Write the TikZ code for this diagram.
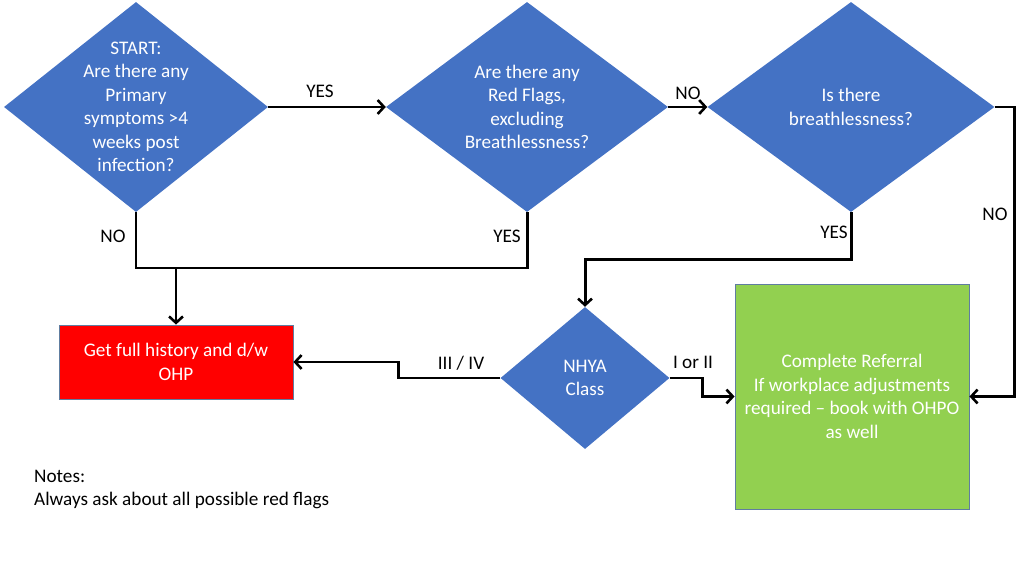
\documentclass[tikz,border=0pt]{standalone}
\usepackage{fontspec}
\setmainfont{Carlito}
\usepackage{tikz}
\usetikzlibrary{arrows.meta,positioning,shapes.geometric,calc}
\definecolor{dblue}{RGB}{68,114,196}
\definecolor{flagred}{RGB}{255,0,0}
\definecolor{okgreen}{RGB}{146,208,80}
\definecolor{edge}{RGB}{96,125,160}
\newcommand\pxu{*0.9375pt}
\tikzset{
  dia/.style={diamond,fill=dblue,draw=none,inner sep=0pt},
  dtxt/.style={text=white,align=center,font=\fontsize{18}{22}\selectfont,inner sep=0pt},
  endbox/.style={rectangle,draw=edge,line width=0.8pt,text=white,align=center,
    font=\fontsize{18}{22}\selectfont,inner sep=0pt},
  arr/.style={-{Straight Barb[length=6pt,width=13pt,line width=2.4pt]},line width=2.8pt},
  wire/.style={line width=2.8pt},
  lbl/.style={font=\fontsize{18}{22}\selectfont,inner sep=0pt},
}
\begin{document}
\begin{tikzpicture}[x=0.9375pt,y=-0.9375pt]
  \useasboundingbox (0,0) rectangle (1024,576);

  \node[dia,minimum width=264\pxu,minimum height=210\pxu] (start) at (136,107) {};
  \node[dtxt] (tstart) at (start) {START:\\Are there any\\Primary\\symptoms >4\\weeks post\\infection?};
  \node[dia,minimum width=282\pxu,minimum height=210\pxu] (flags) at (527,107) {};
  \node[dtxt] (tflags) at (flags) {Are there any\\Red Flags,\\excluding\\Breathlessness?};
  \node[dia,minimum width=287\pxu,minimum height=210\pxu] (breath) at (851,107) {};
  \node[dtxt] (tbreath) at (breath) {Is there\\breathlessness?};
  \node[dia,minimum width=169\pxu,minimum height=142\pxu] (nyha) at (585,378) {};
  \node[dtxt] (tnyha) at (nyha) {NHYA\\Class};

  \node[endbox,fill=flagred,minimum width=234\pxu,minimum height=74\pxu] (history) at (176,362)
    {Get full history and d/w\\OHP};
  \node[endbox,fill=okgreen,minimum width=234\pxu,minimum height=225\pxu] (referral) at (852,396.5)
    {Complete Referral\\If workplace adjustments\\required -- book with OHPO\\as well};

  \coordinate (join) at (176,268);

  % top row
  \draw[arr] (start.east) -- (flags.west);
  \node[lbl] (lyes1) at (320,91) {YES};
  \draw[arr] (flags.east) -- (breath.west);
  \node[lbl] (lno1) at (688,93) {NO};
  \draw[arr] (breath.east) -- ++(20,0) |- (referral.east);
  \node[lbl] (lno2) at (995,214) {NO};

  % down to history
  \draw[wire] (start.south) |- (join) -| (flags.south);
  \draw[arr] (join) -- (history.north);
  \node[lbl] (lno3) at (113,236) {NO};
  \node[lbl] (lyes2) at (507,236) {YES};

  % breathlessness branch
  \draw[arr] (breath.south) -- ++(0,47) -| (nyha.north);
  \node[lbl] (lyes3) at (834,232) {YES};
  \draw[arr] (nyha.west) -- ++(-102,0) |- (history.east);
  \node[lbl] (lsevere) at (461,363) {III / IV};
  \draw[arr] (nyha.east) -- ++(33,0) |- (referral.west);
  \node[lbl] (lmild) at (693,362) {I or II};

  \node[lbl,anchor=west,align=left] (notes) at (34,489.5)
    {Notes:\\Always ask about all possible red flags};
\end{tikzpicture}
\end{document}
